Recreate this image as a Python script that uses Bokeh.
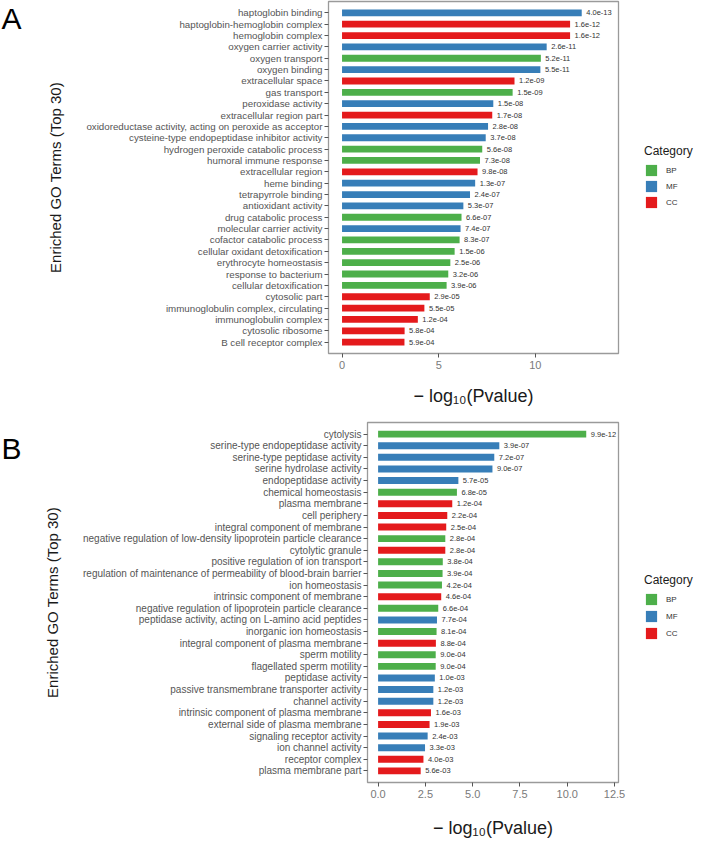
import numpy as np
from bokeh.plotting import figure
from bokeh.models import (ColumnDataSource, FactorRange, Range1d, FixedTicker,
                          PrintfTickFormatter, Legend, LegendItem)
from bokeh.layouts import column, row
from bokeh.core.properties import value
from bokeh.embed import file_html
from bokeh.resources import INLINE

# ---------------- data: panel A ----------------
terms_a = [
    "haptoglobin binding", "haptoglobin-hemoglobin complex", "hemoglobin complex",
    "oxygen carrier activity", "oxygen transport", "oxygen binding",
    "extracellular space", "gas transport", "peroxidase activity",
    "extracellular region part", "oxidoreductase activity, acting on peroxide as acceptor",
    "cysteine-type endopeptidase inhibitor activity", "hydrogen peroxide catabolic process",
    "humoral immune response", "extracellular region", "heme binding",
    "tetrapyrrole binding", "antioxidant activity", "drug catabolic process",
    "molecular carrier activity", "cofactor catabolic process",
    "cellular oxidant detoxification", "erythrocyte homeostasis",
    "response to bacterium", "cellular detoxification", "cytosolic part",
    "immunoglobulin complex, circulating", "immunoglobulin complex",
    "cytosolic ribosome", "B cell receptor complex",
]
cats_a = ["MF", "CC", "CC", "MF", "BP", "MF", "CC", "BP", "MF", "CC",
          "MF", "MF", "BP", "BP", "CC", "MF", "MF", "MF", "BP", "MF",
          "BP", "BP", "BP", "BP", "BP", "CC", "CC", "CC", "CC", "CC"]
pvals_a = [4.0e-13, 1.6e-12, 1.6e-12, 2.6e-11, 5.2e-11, 5.5e-11, 1.2e-09, 1.5e-09,
           1.5e-08, 1.7e-08, 2.8e-08, 3.7e-08, 5.6e-08, 7.3e-08, 9.8e-08, 1.3e-07,
           2.4e-07, 5.3e-07, 6.6e-07, 7.4e-07, 8.3e-07, 1.5e-06, 2.5e-06, 3.2e-06,
           3.9e-06, 2.9e-05, 5.5e-05, 1.2e-04, 5.8e-04, 5.9e-04]
xticks_a = [0, 5, 10]

# ---------------- data: panel B ----------------
terms_b = [
    "cytolysis", "serine-type endopeptidase activity", "serine-type peptidase activity",
    "serine hydrolase activity", "endopeptidase activity", "chemical homeostasis",
    "plasma membrane", "cell periphery", "integral component of membrane",
    "negative regulation of low-density lipoprotein particle clearance",
    "cytolytic granule", "positive regulation of ion transport",
    "regulation of maintenance of permeability of blood-brain barrier",
    "ion homeostasis", "intrinsic component of membrane",
    "negative regulation of lipoprotein particle clearance",
    "peptidase activity, acting on L-amino acid peptides",
    "inorganic ion homeostasis", "integral component of plasma membrane",
    "sperm motility", "flagellated sperm motility", "peptidase activity",
    "passive transmembrane transporter activity", "channel activity",
    "intrinsic component of plasma membrane", "external side of plasma membrane",
    "signaling receptor activity", "ion channel activity", "receptor complex",
    "plasma membrane part",
]
cats_b = ["BP", "MF", "MF", "MF", "MF", "BP", "CC", "CC", "CC", "BP",
          "CC", "BP", "BP", "BP", "CC", "BP", "MF", "BP", "CC", "BP",
          "BP", "MF", "MF", "MF", "CC", "CC", "MF", "MF", "CC", "CC"]
pvals_b = [9.9e-12, 3.9e-07, 7.2e-07, 9.0e-07, 5.7e-05, 6.8e-05, 1.2e-04, 2.2e-04,
           2.5e-04, 2.8e-04, 2.8e-04, 3.8e-04, 3.9e-04, 4.2e-04, 4.6e-04, 6.6e-04,
           7.7e-04, 8.1e-04, 8.8e-04, 9.0e-04, 9.0e-04, 1.0e-03, 1.2e-03, 1.2e-03,
           1.6e-03, 1.9e-03, 2.4e-03, 3.3e-03, 4.0e-03, 5.6e-03]
xticks_b = [0, 2.5, 5, 7.5, 10, 12.5]

categories = ["BP", "MF", "CC"]
colors = {"BP": "#4DAF4A", "MF": "#377EB8", "CC": "#E41A1C"}
panel_letters = ["A", "B"]

FONT = "Liberation Sans"
W = 694          # total page content width
LW = 28          # width of the strip holding the panel letter
PAD = 0.5


def letter_strip(letter, height, top_px):
    f = figure(width=LW, height=height, x_range=Range1d(0, LW),
               y_range=Range1d(0, height), x_axis_type=None, y_axis_type=None,
               output_backend="svg", toolbar_location=None,
               min_border_left=0, min_border_right=0, min_border_top=0,
               min_border_bottom=0)
    f.frame_align = False
    f.outline_line_color = None
    f.xgrid.visible = False
    f.ygrid.visible = False
    f.text(x=[1], y=[height - top_px], text=[letter], text_font=value(FONT),
           text_font_size="30px", text_baseline="top", text_align="left",
           text_color="black")
    return f


def make_panel(terms, cats, pvals, xr, ticks, fmt, frame_h, top, bottom,
               left, right, legend_spacing, legend_shift, x_standoff, label_size):
    vals = -np.log10(np.array(pvals))
    labs = [f"{p:.1e}" for p in pvals]
    yr = FactorRange(factors=terms[::-1], range_padding=PAD,
                     range_padding_units="absolute")
    fw = right - left
    p = figure(frame_width=fw, frame_height=frame_h,
               y_range=yr, x_range=Range1d(*xr),
               output_backend="svg", toolbar_location=None,
               min_border_left=left - LW, min_border_right=W - right,
               min_border_top=top, min_border_bottom=bottom)
    p.frame_align = False
    p.xgrid.visible = False
    p.ygrid.visible = False
    p.outline_line_color = "#9a9a9a"
    p.outline_line_width = 1.3
    p.background_fill_color = "white"
    p.border_fill_color = "white"

    items = []
    for c in categories:
        idx = [i for i, cc in enumerate(cats) if cc == c]
        src = ColumnDataSource(dict(term=[terms[i] for i in idx],
                                    val=[float(vals[i]) for i in idx]))
        r = p.hbar(y="term", left=0, right="val", height=0.6, source=src,
                   fill_color=colors[c], line_color=None)
        items.append(LegendItem(label=c, renderers=[r]))

    lsrc = ColumnDataSource(dict(term=terms, val=[float(v) for v in vals], lab=labs))
    p.text(x="val", y="term", text="lab", source=lsrc, x_offset=4.5,
           text_align="left", text_baseline="middle", text_font_size="7.5px",
           text_color="#333333", text_font=value(FONT))

    xa = p.xaxis[0]
    xa.ticker = FixedTicker(ticks=ticks, minor_ticks=[])
    xa.formatter = PrintfTickFormatter(format=fmt)
    xa.axis_label = "\u2212 log\u2081\u2080(Pvalue)"
    xa.axis_label_text_font = FONT
    xa.axis_label_text_font_style = "normal"
    xa.axis_label_text_font_size = "18px"
    xa.axis_label_text_color = "#1a1a1a"
    xa.axis_label_standoff = x_standoff
    xa.major_label_text_font = FONT
    xa.major_label_text_font_size = "11px"
    xa.major_label_text_color = "#7a7a7a"
    xa.major_label_standoff = 3
    xa.axis_line_color = None
    xa.major_tick_line_color = "#555555"
    xa.major_tick_in = 0
    xa.major_tick_out = 4
    xa.minor_tick_line_color = None

    ya = p.yaxis[0]
    ya.axis_label = "Enriched GO Terms (Top 30)"
    ya.axis_label_text_font = FONT
    ya.axis_label_text_font_style = "normal"
    ya.axis_label_text_font_size = "15px"
    ya.axis_label_text_color = "#1a1a1a"
    ya.axis_label_standoff = 19
    ya.major_label_text_font = FONT
    ya.major_label_text_font_size = label_size
    ya.major_label_text_color = "#555555"
    ya.major_label_standoff = 2
    ya.axis_line_color = None
    ya.major_tick_line_color = "#555555"
    ya.major_tick_in = 0
    ya.major_tick_out = 4

    leg_h = 13 + 5 + 3 * 14 + 2 * legend_spacing
    legend = Legend(items=items, title="Category",
                    location=(26, (frame_h - leg_h) / 2 - legend_shift),
                    glyph_width=14, glyph_height=14, label_standoff=8,
                    spacing=legend_spacing, padding=0, margin=0, title_standoff=5,
                    label_text_font=FONT, label_text_font_size="8px",
                    label_text_color="#333333", title_text_font=FONT,
                    title_text_font_size="12px", title_text_color="#1a1a1a",
                    title_text_font_style="normal",
                    border_line_color=None, background_fill_alpha=0)
    p.add_layout(legend, "right")
    return p


# panel A
A_TOP, A_FH, A_BOT = 1, 352, 64
pA = make_panel(terms_a, cats_a, pvals_a, (-0.7, 14.3), xticks_a, "%d",
                frame_h=A_FH, top=A_TOP, bottom=A_BOT, left=328, right=618,
                legend_spacing=2, legend_shift=0, x_standoff=14, label_size="9.75px")
lA = letter_strip(panel_letters[0], A_TOP + A_FH + A_BOT, 1)

# panel B
B_TOP, B_FH, B_BOT = 5, 360, 49
pB = make_panel(terms_b, cats_b, pvals_b, (-0.56, 12.71), xticks_b, "%.1f",
                frame_h=B_FH, top=B_TOP, bottom=B_BOT, left=367, right=618,
                legend_spacing=3, legend_shift=5, x_standoff=17, label_size="10px")
lB = letter_strip(panel_letters[1], B_TOP + B_FH + B_BOT, 14)

layout = column(row(lA, pA), row(lB, pB))
open("out.html", "w").write(file_html(layout, INLINE))
